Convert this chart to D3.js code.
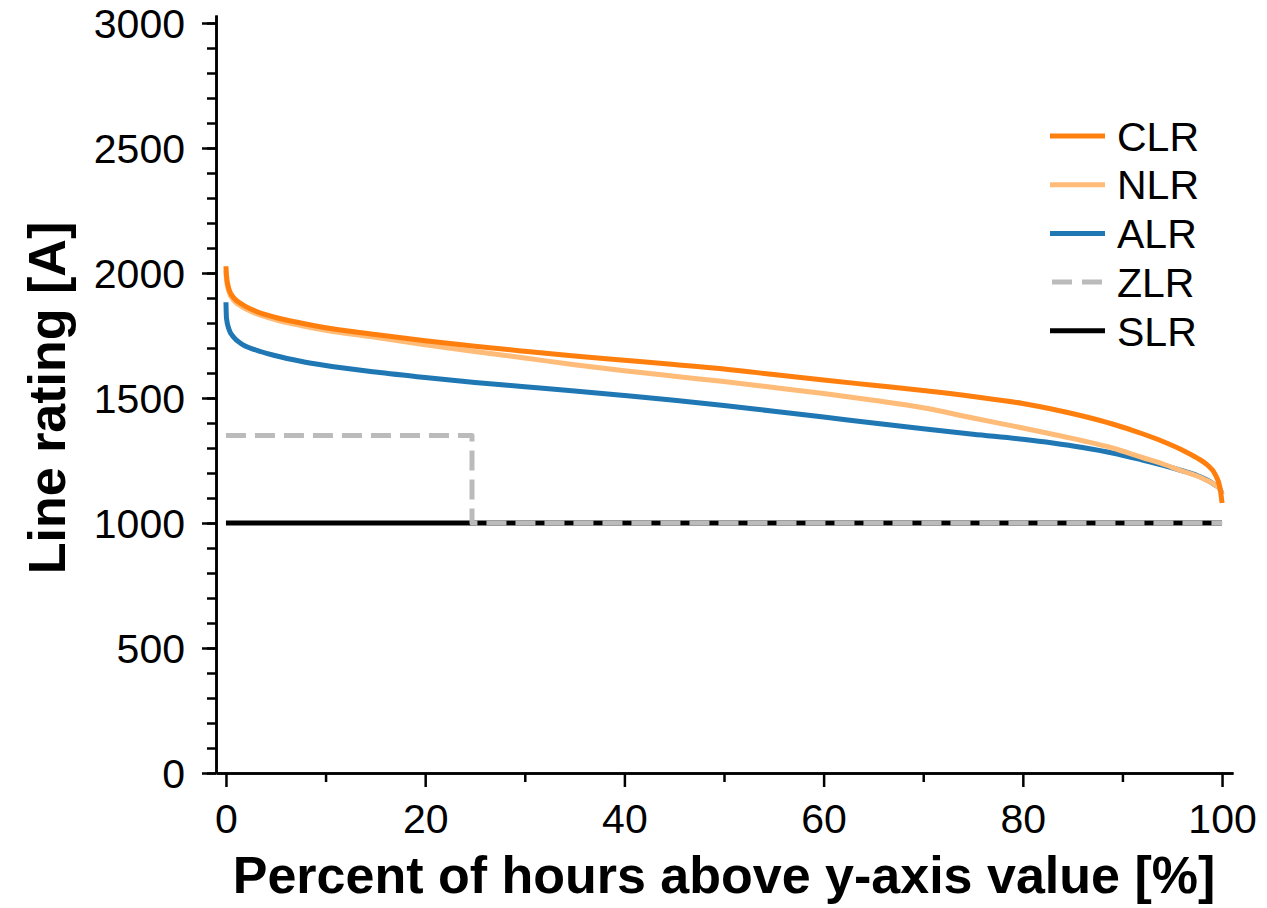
<!DOCTYPE html>
<html>
<head>
<meta charset="utf-8">
<script src="https://cdn.jsdelivr.net/npm/d3@7"></script>
<style>
	body { margin: 0; background: #fff; }
	svg { display: block; font-family: "Liberation Sans", Arial, sans-serif; }
	.axis text { font-size: 41px; fill: #000; }
	.axis path, .axis line { stroke: #000; stroke-width: 2.5; }
	.axis-label { font-size: 52px; font-weight: bold; }
	.legend text { font-size: 41px; }
</style>
</head>
<body>
<div class="rating-chart"></div>
<script>
// percent of hours (x) shared by the three duration curves
const hours = [0, 0.05, 0.3, 0.8, 1.5, 3, 5, 7.5, 10, 15, 20, 25, 30, 35, 40, 45, 50, 55, 60,
	65, 70, 75, 80, 83, 86, 89, 92, 94, 96, 97.5, 98.5, 99.3, 99.8, 100];

const clr = [2027, 1990, 1935, 1900, 1878, 1847, 1822, 1800, 1781, 1754, 1729, 1707, 1687, 1668, 1651, 1634, 1616, 1594, 1572,
	1551, 1530, 1506, 1478, 1455, 1428, 1396, 1357, 1327, 1292, 1260, 1233, 1195, 1140, 1080];
const nlr = [2010, 1975, 1925, 1890, 1868, 1838, 1813, 1790, 1771, 1743, 1713, 1686, 1660, 1633, 1609, 1587, 1566, 1542, 1518,
	1491, 1461, 1420, 1380, 1355, 1329, 1300, 1262, 1237, 1208, 1188, 1170, 1152, 1135, 1115];
const alr = [1883, 1820, 1775, 1742, 1718, 1692, 1669, 1647, 1630, 1604, 1582, 1562, 1545, 1528, 1510, 1491, 1470, 1447, 1424,
	1400, 1377, 1355, 1335, 1320, 1302, 1280, 1252, 1232, 1209, 1190, 1172, 1152, 1135, 1115];

// step-like static ratings
const zlrHours = [0, 24.7, 24.7, 100];
const zlr = [1350, 1350, 1000, 1000];
const slrHours = [0, 100];
const slr = [1000, 1000];

const yTicks = [0, 500, 1000, 1500, 2000, 2500, 3000];
const xTicks = [0, 20, 40, 60, 80, 100];

const series = [
	{name: "SLR", xs: slrHours, ys: slr, color: "#000000", dash: null},
	{name: "ZLR", xs: zlrHours, ys: zlr, color: "#bbbbbb", dash: "20,9"},
	{name: "ALR", xs: hours, ys: alr, color: "#1f77b4", dash: null},
	{name: "NLR", xs: hours, ys: nlr, color: "#ffbb78", dash: null},
	{name: "CLR", xs: hours, ys: clr, color: "#ff7f0e", dash: null}
];
const legendOrder = ["CLR", "NLR", "ALR", "ZLR", "SLR"];

(function() {
	const width = 1267,
		height = 908;

	const x = d3.scaleLinear()
		.domain([-1, 101.1])
		.range([216, 1233]);

	const y = d3.scaleLinear()
		.domain([0, 3032])
		.range([773, 15]);

	const svg = d3.select(".rating-chart").append("svg")
		.attr("width", width)
		.attr("height", height);

	// minor ticks first, majors on top
	svg.append("g")
		.attr("class", "axis")
		.attr("transform", "translate(216,0)")
		.call(d3.axisLeft(y).tickValues(d3.range(0, 3001, 100)).tickSize(9).tickSizeOuter(0).tickFormat(""));

	svg.append("g")
		.attr("class", "axis")
		.attr("transform", "translate(0,773)")
		.call(d3.axisBottom(x).tickValues(d3.range(10, 100, 20)).tickSize(9).tickSizeOuter(0).tickFormat(""));

	svg.append("g")
		.attr("class", "axis y")
		.attr("transform", "translate(216,0)")
		.call(d3.axisLeft(y).tickValues(yTicks).tickSize(14).tickSizeOuter(0).tickPadding(17).tickFormat(d3.format("d")))
		.selectAll("text")
		.attr("dy", "0.36em");

	svg.append("g")
		.attr("class", "axis x")
		.attr("transform", "translate(0,773)")
		.call(d3.axisBottom(x).tickValues(xTicks).tickSize(14).tickSizeOuter(0).tickPadding(17).tickFormat(d3.format("d")))
		.selectAll("text")
		.attr("dy", "0.71em");

	svg.append("text")
		.attr("class", "axis-label")
		.attr("x", x(50))
		.attr("y", 893)
		.style("text-anchor", "middle")
		.text("Percent of hours above y-axis value [%]");

	svg.append("text")
		.attr("class", "axis-label")
		.attr("transform", "translate(65," + y(1500) + ") rotate(-90)")
		.style("text-anchor", "middle")
		.text("Line rating [A]");

	const line = d3.line()
		.x(d => x(d[0]))
		.y(d => y(d[1]));

	const smooth = d3.line()
		.x(d => x(d[0]))
		.y(d => y(d[1]))
		.curve(d3.curveMonotoneX);

	svg.selectAll(".series")
		.data(series)
		.enter().append("path")
		.attr("class", "series")
		.attr("d", d => {
			const pts = d.xs.map((v, i) => [v, d.ys[i]]);
			return d.xs === hours ? smooth(pts) : line(pts);
		})
		.attr("fill", "none")
		.attr("stroke", d => d.color)
		.attr("stroke-width", 5)
		.attr("stroke-dasharray", d => d.dash)
		.attr("stroke-linejoin", "round");

	const legend = svg.selectAll(".legend")
		.data(legendOrder.map(n => series.find(s => s.name === n)))
		.enter().append("g")
		.attr("class", "legend")
		.attr("transform", (d, i) => "translate(0," + (136 + i * 48.7) + ")");

	legend.append("line")
		.attr("x1", 1050)
		.attr("x2", 1105)
		.attr("stroke", d => d.color)
		.attr("stroke-width", 5)
		.attr("stroke-dasharray", d => d.dash ? "20,10" : null)
		.attr("transform", d => d.dash ? "translate(2,0)" : null);

	legend.append("text")
		.attr("x", 1117)
		.attr("dy", "0.36em")
		.text(d => d.name);
})();
</script>
</body>
</html>
